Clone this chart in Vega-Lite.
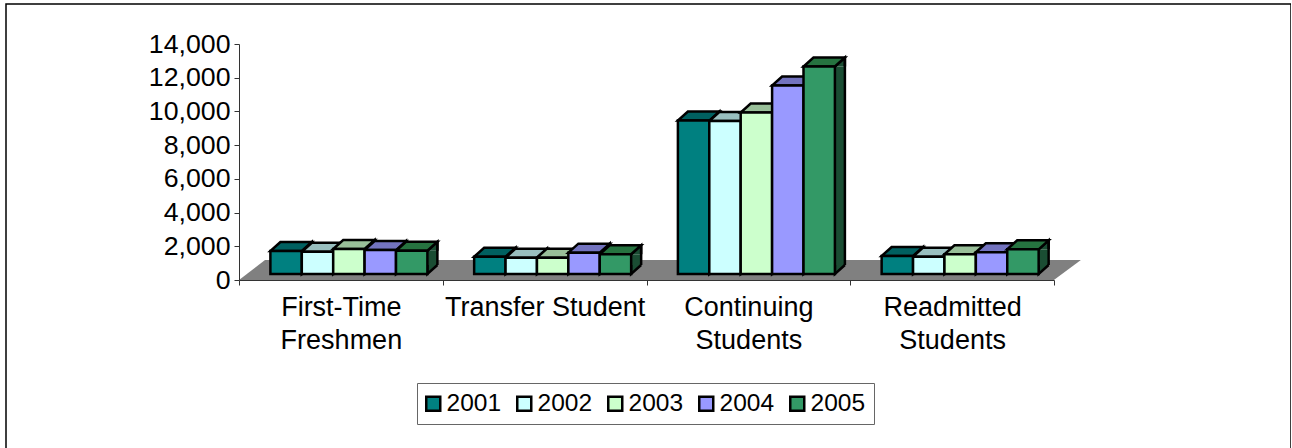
{
"$schema":"https://vega.github.io/schema/vega-lite/v6.json",
"autosize":{"type":"none"},
"padding":{"left":6,"top":4,"right":0,"bottom":0},
"width":1285,"height":445,
"background":"white",
"config":{"view":{"stroke":"black","strokeWidth":1.5,"fill":"white"},"font":"Liberation Sans"},
"datasets":{"enrollment":[
{"Student":"First-Time Freshmen","Year":"2001","Enrollment":1365},
{"Student":"First-Time Freshmen","Year":"2002","Enrollment":1320},
{"Student":"First-Time Freshmen","Year":"2003","Enrollment":1480},
{"Student":"First-Time Freshmen","Year":"2004","Enrollment":1420},
{"Student":"First-Time Freshmen","Year":"2005","Enrollment":1380},
{"Student":"Transfer Student","Year":"2001","Enrollment":1025},
{"Student":"Transfer Student","Year":"2002","Enrollment":970},
{"Student":"Transfer Student","Year":"2003","Enrollment":970},
{"Student":"Transfer Student","Year":"2004","Enrollment":1265},
{"Student":"Transfer Student","Year":"2005","Enrollment":1170},
{"Student":"Continuing Students","Year":"2001","Enrollment":9100},
{"Student":"Continuing Students","Year":"2002","Enrollment":9075},
{"Student":"Continuing Students","Year":"2003","Enrollment":9580},
{"Student":"Continuing Students","Year":"2004","Enrollment":11180},
{"Student":"Continuing Students","Year":"2005","Enrollment":12310},
{"Student":"Readmitted Students","Year":"2001","Enrollment":1070},
{"Student":"Readmitted Students","Year":"2002","Enrollment":1030},
{"Student":"Readmitted Students","Year":"2003","Enrollment":1170},
{"Student":"Readmitted Students","Year":"2004","Enrollment":1290},
{"Student":"Readmitted Students","Year":"2005","Enrollment":1465}
]},
"data":{"name":"enrollment"},
"encoding":{
 "x":{"field":"Student","type":"nominal","sort":null,"title":null,
  "scale":{"domain":["First-Time Freshmen","Transfer Student","Continuing Students","Readmitted Students"],"range":[233,1048],"paddingInner":0,"paddingOuter":0},
  "axis":{"orient":"bottom","offset":-169,"zindex":1,"tickBand":"extent","labelAngle":0,"labelFontSize":27,"labelColor":"black","labelFont":"Liberation Sans","labelPadding":9,"labelLineHeight":33,"labelLimit":300,"tickSize":5,"tickColor":"#333333","domainColor":"#333333","grid":false,
   "labelExpr":"datum.label == 'Transfer Student' ? datum.label : split(datum.label, ' ')"}},
 "xOffset":{"field":"Year","type":"nominal","sort":null,"scale":{"type":"band","domain":["2001","2002","2003","2004","2005"],"range":[31.4,188.4],"paddingInner":0,"paddingOuter":0}},
 "y":{"field":"Enrollment","type":"quantitative","title":null,
  "scale":{"domain":[0,14000],"range":[276,40],"nice":false,"zero":true},
  "axis":{"orient":"left","offset":-233,"zindex":1,"values":[0,2000,4000,6000,8000,10000,12000,14000],"format":",d","labelFontSize":26.7,"labelColor":"black","labelFont":"Liberation Sans","labelPadding":4,"tickSize":5,"tickColor":"#333333","domainColor":"#333333","grid":false}}
},
"layer":[
 {"data":{"values":[{"Student":"First-Time Freshmen","Year":"2003","Enrollment":0}]},
  "mark":{"type":"point","filled":true,"opacity":1,"size":4,"fill":"#808080","strokeWidth":0,
   "shape":"M-109.9,0 L705,0 L732,-20 L-83.9,-20 Z"}},
 {"mark":{"type":"rule","yOffset":-6,"y2Offset":-15,"strokeWidth":10,"strokeCap":"butt","opacity":1},
  "encoding":{"y2":{"datum":0},
   "xOffset":{"field":"Year","type":"nominal","sort":null,"scale":{"type":"band","domain":["2001","2002","2003","2004","2005"],"range":[52.1,209.1],"paddingInner":0,"paddingOuter":0}},
   "color":{"field":"Year","type":"nominal","legend":null,"scale":{"domain":["2001","2002","2003","2004","2005"],"range":["#004040","#668080","#668066","#4D4D80","#1A4D33"]}}}},
 {"mark":{"type":"point","filled":true,"opacity":1,"size":4,"stroke":"black","strokeWidth":2.5,
   "shape":"M15.7,-6 L25.7,-15 L25.7,-6"},
  "encoding":{
   "color":{"field":"Year","type":"nominal","legend":null,"scale":{"domain":["2001","2002","2003","2004","2005"],"range":["#004040","#668080","#668066","#4D4D80","#1A4D33"]}}}},
 {"mark":{"type":"point","filled":true,"opacity":1,"size":4,"stroke":"black","strokeWidth":2.5,
   "shape":"M15.7,-15 L15.7,-6 L25.7,-15"},
  "encoding":{"y":{"datum":0},
   "color":{"field":"Year","type":"nominal","legend":null,"scale":{"domain":["2001","2002","2003","2004","2005"],"range":["#004040","#668080","#668066","#4D4D80","#1A4D33"]}}}},
 {"mark":{"type":"rule","yOffset":-15,"y2Offset":-15,"stroke":"black","strokeWidth":2.5},
  "encoding":{"y2":{"datum":0},"xOffset":{"field":"Year","type":"nominal","sort":null,"scale":{"type":"band","domain":["2001","2002","2003","2004","2005"],"range":[57.1,214.1],"paddingInner":0,"paddingOuter":0}}}},
 {"mark":{"type":"point","filled":true,"opacity":1,"size":4,"stroke":"black","strokeWidth":2.5,
   "shape":"M-15.7,-6 L15.7,-6 L25.7,-15 L-5.7,-15 Z"},
  "encoding":{
   "color":{"field":"Year","type":"nominal","legend":null,"scale":{"domain":["2001","2002","2003","2004","2005"],"range":["#006060","#99BFBF","#99BF99","#7373BF","#267340"]}}}},
 {"mark":{"type":"bar","yOffset":-6,"y2Offset":-6,"stroke":"black","strokeWidth":2.5,"opacity":1},
  "encoding":{"y2":{"datum":0},
   "color":{"field":"Year","type":"nominal","title":null,
    "scale":{"domain":["2001","2002","2003","2004","2005"],"range":["#008080","#CCFFFF","#CCFFCC","#9999FF","#339966"]},
    "legend":{"orient":"none","legendX":411,"legendY":379,"direction":"horizontal","columns":5,"title":null,"symbolType":"square","symbolSize":196,"symbolStrokeColor":"black","symbolStrokeWidth":2.5,"symbolOpacity":1,"symbolOffset":-4,"labelFontSize":24.5,"labelColor":"black","labelFont":"Liberation Sans","labelOffset":1,"columnPadding":10,"padding":8,"strokeColor":"#666666","fillColor":"white"}}}}
],
"resolve":{"scale":{"color":"independent","xOffset":"independent"}}
}
